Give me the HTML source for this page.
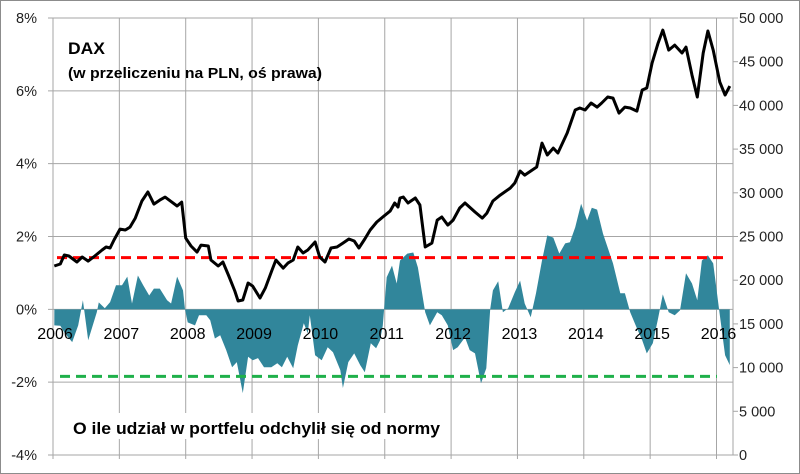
<!DOCTYPE html>
<html><head><meta charset="utf-8"><style>
html,body{margin:0;padding:0;background:#fff}
svg{display:block;font-family:"Liberation Sans",sans-serif}
</style></head><body>
<svg id="chart" width="800" height="474">
<rect x="0.5" y="0.5" width="799" height="473" fill="#fff" stroke="#8c8c8c"/>
<g id="grid"></g><g id="marks"></g><g id="axes"></g>
<text x="68" y="54" font-size="17" font-weight="bold" textLength="37" lengthAdjust="spacingAndGlyphs">DAX</text>
<text x="68" y="78" font-size="15" font-weight="bold" textLength="254" lengthAdjust="spacingAndGlyphs">(w przeliczeniu na PLN, oś prawa)</text>
<rect x="70" y="413" width="374" height="26" fill="#fff"/>
<text x="73" y="434" font-size="17" font-weight="bold" textLength="367" lengthAdjust="spacingAndGlyphs">O ile udział w portfelu odchylił się od normy</text>
</svg>
<script>
const daxDates=[2006.02,2006.11,2006.17,2006.24,2006.36,2006.44,2006.53,2006.63,2006.74,2006.80,2006.86,2006.92,2007.01,2007.09,2007.16,2007.24,2007.34,2007.43,2007.52,2007.61,2007.69,2007.79,2007.87,2007.94,2008.00,2008.08,2008.17,2008.23,2008.34,2008.38,2008.49,2008.56,2008.65,2008.74,2008.79,2008.86,2008.94,2009.01,2009.12,2009.20,2009.30,2009.36,2009.47,2009.54,2009.62,2009.69,2009.77,2009.84,2009.95,2010.02,2010.10,2010.19,2010.28,2010.37,2010.46,2010.54,2010.61,2010.70,2010.78,2010.88,2010.97,2011.08,2011.15,2011.20,2011.23,2011.28,2011.35,2011.46,2011.53,2011.61,2011.71,2011.79,2011.86,2011.95,2012.03,2012.13,2012.21,2012.36,2012.47,2012.54,2012.63,2012.74,2012.89,2012.96,2013.04,2013.11,2013.29,2013.37,2013.45,2013.54,2013.61,2013.75,2013.87,2013.94,2014.02,2014.11,2014.20,2014.27,2014.36,2014.44,2014.53,2014.62,2014.70,2014.80,2014.88,2014.95,2015.03,2015.12,2015.19,2015.28,2015.37,2015.48,2015.54,2015.63,2015.71,2015.80,2015.87,2015.95,2016.05,2016.13,2016.20];
const daxValues=[21620,21850,22880,22770,22080,22650,22190,22770,23450,23800,23680,24600,25850,25740,26080,27110,29060,30090,28710,29170,29510,28940,28490,28940,24820,23910,23220,24020,23910,22310,21620,22080,20480,18760,17620,17730,19680,19330,17960,19100,21160,22310,21390,21960,22310,23800,23110,23450,24370,22650,22080,23680,23800,24250,24710,24480,23680,24710,25740,26660,27230,27910,28830,28370,29400,29520,28830,29400,28600,23800,24250,26880,27230,26310,26880,28260,28830,27800,27110,27680,29060,29740,30540,31120,32490,32030,32950,35690,34320,35120,34550,36840,39470,39700,39470,40270,39810,40270,40960,40840,39120,39810,39700,39350,41760,41990,44850,47130,48620,46330,46900,45990,46670,43470,40960,45990,48510,46330,42670,41190,42210];
const devDates=[2006.02,2006.11,2006.18,2006.29,2006.38,2006.45,2006.53,2006.66,2006.69,2006.78,2006.86,2006.95,2007.04,2007.12,2007.19,2007.28,2007.36,2007.45,2007.52,2007.61,2007.72,2007.78,2007.87,2007.96,2007.99,2008.03,2008.14,2008.20,2008.31,2008.37,2008.44,2008.52,2008.61,2008.70,2008.77,2008.86,2008.94,2009.01,2009.09,2009.18,2009.29,2009.38,2009.45,2009.53,2009.62,2009.69,2009.78,2009.84,2009.87,2009.95,2010.05,2010.14,2010.22,2010.33,2010.37,2010.45,2010.54,2010.63,2010.70,2010.79,2010.87,2010.93,2010.97,2010.99,2011.03,2011.11,2011.18,2011.23,2011.34,2011.43,2011.50,2011.61,2011.68,2011.79,2011.86,2011.95,2012.03,2012.10,2012.21,2012.28,2012.36,2012.45,2012.53,2012.59,2012.63,2012.71,2012.78,2012.86,2012.96,2013.04,2013.11,2013.20,2013.28,2013.37,2013.45,2013.54,2013.63,2013.72,2013.79,2013.87,2013.96,2014.05,2014.12,2014.20,2014.29,2014.44,2014.55,2014.62,2014.70,2014.80,2014.88,2014.95,2015.04,2015.12,2015.19,2015.28,2015.37,2015.45,2015.54,2015.63,2015.71,2015.78,2015.87,2015.95,2016.04,2016.13,2016.20];
const devValues=[-0.44,-0.45,-0.66,-0.9,-0.44,0.25,-0.85,-0.08,0.19,0.03,0.2,0.66,0.66,0.9,0.16,0.93,0.66,0.38,0.57,0.57,0.25,0.16,0.9,0.52,0,-0.36,-0.44,-0.16,-0.16,-0.3,-0.8,-0.71,-1.12,-1.59,-1.45,-2.3,-1.3,-1.4,-1.34,-1.59,-1.59,-1.48,-1.59,-1.3,-1.62,-0.99,-0.38,-0.66,-0.16,-1.26,-1.4,-1.04,-1.18,-1.67,-2.16,-1.45,-1.21,-1.53,-1.73,-0.93,-1.07,-0.85,-0.44,0,0.88,1.2,0.71,1.34,1.53,1.56,1.15,-0.08,-0.44,-0.08,-0.16,-0.44,-1.12,-1.04,-0.77,-1.12,-1.21,-2.03,-1.62,0,0.52,0.77,-0.08,0.03,0.47,0.79,0.16,-0.22,0.44,1.34,2.03,1.97,1.53,1.81,1.84,2.25,2.9,2.44,2.79,2.74,2.08,1.26,0.44,0.44,-0.08,-0.52,-0.85,-1.21,-0.93,-0.25,0.41,-0.08,-0.16,-0.03,0.99,0.71,0.25,1.34,1.48,1.26,-0.03,-1.26,-1.53];
const upperNorm=1.42, lowerNorm=-1.84;
const leftTicks=[8,6,4,2,0,-2,-4];
const rightTicks=[0,5000,10000,15000,20000,25000,30000,35000,40000,45000,50000];
const years=[2006,2007,2008,2009,2010,2011,2012,2013,2014,2015,2016];

const L=53,R=733,T=18,B=455;
const xs=y=>L+(y-2006)*66.35;
const yl=v=>T+(8-v)/12*(B-T);
const yr=v=>B-v/50000*(B-T);
const NS='http://www.w3.org/2000/svg';
function mk(tag,attrs,parent,txt){const e=document.createElementNS(NS,tag);for(const k in attrs)e.setAttribute(k,attrs[k]);if(txt!==undefined)e.textContent=txt;document.getElementById(parent).appendChild(e);return e;}

leftTicks.forEach(t=>{
  const g=mk('line',{x1:L-5,x2:R,y1:yl(t),y2:yl(t),stroke:'#a6a6a6','stroke-width':1},'grid');
  
  
  const tx=mk('text',{x:37,y:yl(t)+5,'text-anchor':'end','font-size':14.5,fill:'#222'},'axes',t+'%');
  
  
});
years.forEach(yv=>{
  const g=mk('line',{x1:xs(yv),x2:xs(yv),y1:T,y2:B+4,stroke:'#a6a6a6','stroke-width':1},'grid');
  
  
});
const rb=mk('line',{x1:R,x2:R,y1:T,y2:B,stroke:'#a6a6a6'},'grid');


rightTicks.forEach(t=>{
  const k=mk('line',{x1:R,x2:R+5,y1:yr(t),y2:yr(t),stroke:'#a6a6a6'},'axes');
  
  
  const s=t===0?'0':String(t).replace(/\B(?=(\d{3})+(?!\d))/g,' ');
  const tx=mk('text',{x:739,y:yr(t)+5,'font-size':14.5,fill:'#222'},'axes',s);
  
  
});

let d='M'+xs(devDates[0])+','+yl(0);
devDates.forEach((t,i)=>{d+=' L'+xs(t).toFixed(1)+','+yl(devValues[i]).toFixed(1);});
d+=' L'+xs(devDates[devDates.length-1])+','+yl(0)+' Z';
const area=mk('path',{d:d,fill:'#31869b'},'marks');



years.forEach(yv=>{
  const tx=mk('text',{x:xs(yv)+2,y:339,'text-anchor':'middle','font-size':16,fill:'#000'},'marks',String(yv));
  
  
});

const up=mk('line',{x1:57,x2:725,y1:yl(upperNorm),y2:yl(upperNorm),stroke:'#ff0000','stroke-width':3,'stroke-dasharray':'10,6'},'marks');


const lo=mk('line',{x1:60,x2:717,y1:yl(lowerNorm),y2:yl(lowerNorm),stroke:'#1fb04a','stroke-width':3,'stroke-dasharray':'10,6'},'marks');



const pts=daxDates.map((t,i)=>xs(t).toFixed(1)+','+yr(daxValues[i]).toFixed(1)).join(' ');
const line=mk('polyline',{points:pts,fill:'none',stroke:'#000','stroke-width':3,'stroke-linejoin':'round'},'marks');


</script>
</body></html>
